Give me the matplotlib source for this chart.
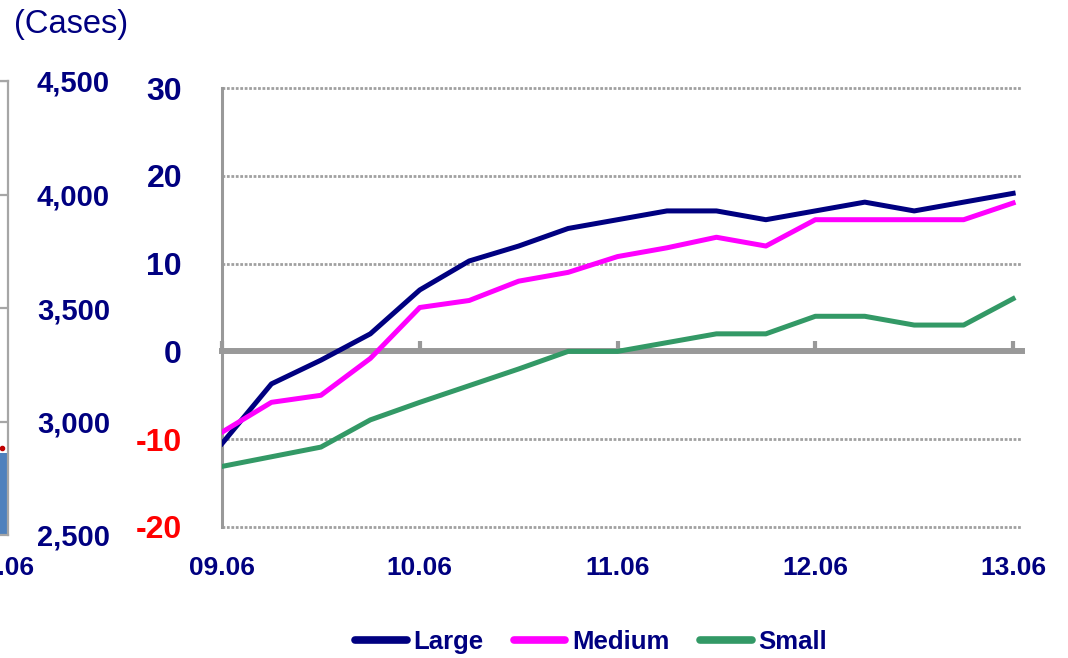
import matplotlib
matplotlib.use('Agg')
import matplotlib.pyplot as plt

plt.rcParams['font.family'] = ['Liberation Sans', 'DejaVu Sans']

# quarterly change (%) by size
periods = ['09.06', '09.09', '09.12', '10.03', '10.06', '10.09', '10.12', '11.03',
           '11.06', '11.09', '11.12', '12.03', '12.06', '12.09', '12.12', '13.03', '13.06']
large = [-10.5, -3.7, -1.0, 2.0, 7.0, 10.3, 12.0, 14.0, 15.0, 16.0, 16.0, 15.0,
         16.0, 17.0, 16.0, 17.0, 18.0]
medium = [-9.2, -5.8, -5.0, -0.8, 5.0, 5.8, 8.0, 9.0, 10.8, 11.8, 13.0, 12.0,
          15.0, 15.0, 15.0, 15.0, 16.9]
small = [-13.1, -12.0, -10.9, -7.8, -5.8, -3.9, -2.0, 0.0, 0.0, 1.0, 2.0, 2.0,
         4.0, 4.0, 3.0, 3.0, 6.0]
yticks = [-20, -10, 0, 10, 20, 30]
xtick_labels = ['09.06', '10.06', '11.06', '12.06', '13.06']

# cut-off neighbour chart on the left
left_cats = ['13.06']
left_bar = [2860]
left_red = [2885]
left_yticks = [2500, 3000, 3500, 4000, 4500]
left_ylabels = ['2,500', '3,000', '3,500', '4,000', '4,500']

navy = '#000080'
grey = '#999999'
W, H = 1068, 658


def fx(px):
    return px / W


def fy(px):
    return 1 - px / H


fig = plt.figure(figsize=(W / 100, H / 100), dpi=100)

# %% main chart
ax = fig.add_axes([fx(222), fy(527), fx(1022) - fx(222), fy(88) - fy(527)])
x = list(range(len(periods)))
ax.plot(x, large, color='#000080', lw=3.6, zorder=3, solid_joinstyle='round', label='Large')
ax.plot(x, medium, color='#FF00FF', lw=3.6, zorder=3, solid_joinstyle='round', label='Medium')
ax.plot(x, small, color='#339966', lw=3.6, zorder=3, solid_joinstyle='round', label='Small')

ax.set_xlim(0, 16.18)
ax.set_ylim(-20, 30)
ax.set_yticks(yticks, labels=[str(v) for v in yticks], fontweight='bold', fontsize=23)
for lbl, v in zip(ax.get_yticklabels(), yticks):
    lbl.set_color('#FF0000' if v < 0 else navy)
ax.tick_params(axis='y', length=0, pad=28.8)

ax.yaxis.grid(True, color='#a0a0a0', lw=2.0, linestyle=(0, (1, 0.6)))
ax.set_axisbelow(True)
for gl in ax.get_ygridlines():
    gl.set_clip_on(False)

for s in ['top', 'right']:
    ax.spines[s].set_visible(False)
ax.spines['left'].set_color(grey)
ax.spines['left'].set_linewidth(2.2)
ax.spines['bottom'].set_position(('data', 0))
ax.spines['bottom'].set_color(grey)
ax.spines['bottom'].set_linewidth(4.3)

tick_pos = [periods.index(p) for p in xtick_labels]
ax.set_xticks(tick_pos)
ax.tick_params(axis='x', direction='in', length=7, width=3, color=grey, labelbottom=False)

sec = ax.secondary_xaxis('bottom')
sec.set_xticks(tick_pos, labels=xtick_labels, fontweight='bold', fontsize=19, color=navy)
sec.tick_params(length=0, pad=21)
sec.spines['bottom'].set_visible(False)

# %% left fragment
lax = fig.add_axes([fx(-400), fy(535), fx(408), fy(81) - fy(535)])
lax.bar([0], left_bar, width=0.12, color='#4F81BD', zorder=2)
lax.plot([0], left_red, 'o', color='#C00000', ms=3, zorder=3)
lax.set_xlim(-0.985, 0.015)
lax.set_ylim(2500, 4500)
lax.set_yticks(left_yticks, labels=left_ylabels, fontweight='bold', fontsize=21, color=navy)
lax.yaxis.tick_right()
lax.tick_params(axis='y', length=0, pad=73.4)
for t in lax.yaxis.get_major_ticks():
    t.label2.set_ha('right')
lax.set_xticks([0], labels=left_cats, fontweight='bold', fontsize=19, color=navy)
lax.tick_params(axis='x', length=0, pad=15)
lax.yaxis.grid(True, color='#a6a6a6', lw=1.6)
lax.set_axisbelow(True)
lax.spines['left'].set_visible(False)
for s in ['right', 'top', 'bottom']:
    lax.spines[s].set_color('#a6a6a6')
    lax.spines[s].set_linewidth(1.6)

fig.text(fx(14), fy(24), '(Cases)', fontsize=23.5, color=navy, va='center', ha='left')

leg = fig.legend(loc='center', bbox_to_anchor=(fx(591), fy(642)), ncol=3, frameon=False,
                 prop={'weight': 'bold', 'size': 18.5}, labelcolor=navy,
                 handlelength=2.0, handletextpad=0.25, columnspacing=1.2)
for h in leg.get_lines():
    h.set_linewidth(5.5)
    h.set_solid_capstyle('round')

plt.savefig('out.png', dpi=100, facecolor='white')
plt.close()
